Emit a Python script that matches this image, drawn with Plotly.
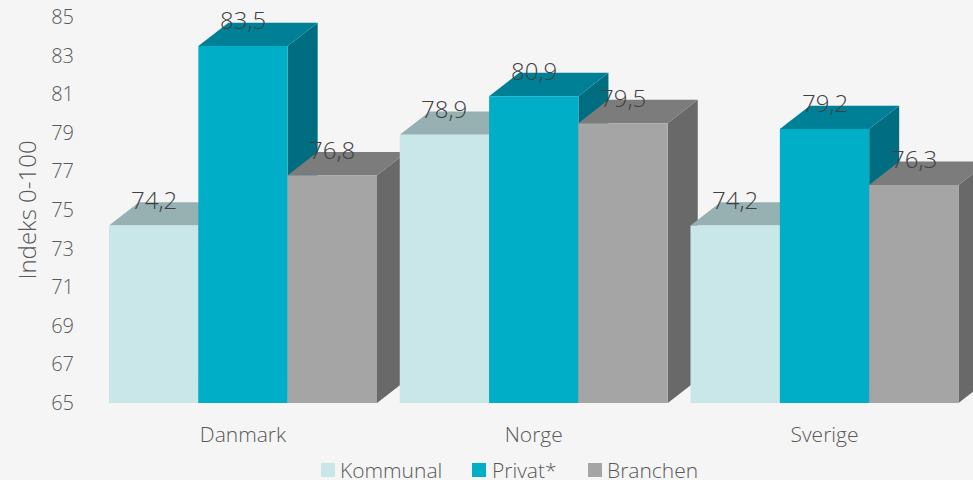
import plotly.graph_objects as go

categories = ["Danmark", "Norge", "Sverige"]
kommunal = [74.2, 78.9, 74.2]
privat = [83.5, 80.9, 79.2]
branchen = [76.8, 79.5, 76.3]
y_ticks = [65, 67, 69, 71, 73, 75, 77, 79, 81, 83, 85]

series = [
    ("Kommunal", kommunal, "#c9e7e9", "#97b0b2", "#7f9a9c"),
    ("Privat*", privat, "#00aec7", "#008097", "#006e80"),
    ("Branchen", branchen, "#a5a5a5", "#7c7c7c", "#696969"),
]

W, H = 973, 480
L, R, T, B = 75, 0, 17, 77
SPACING = 290.75          # pixels between categories
BAR = 89.33 / SPACING     # bar width in axis units
DX = 30 / SPACING         # depth in axis units
BASE = 65
DY = 23.3 / 19.3          # depth in axis units
FONT = "Open Sans"

fig = go.Figure()


def face(xs, ys, color, name):
    fig.add_trace(go.Scatter(
        x=xs + xs[:1], y=ys + ys[:1], mode="lines", fill="toself",
        fillcolor=color, line=dict(width=0), hoverinfo="skip",
        name=name, showlegend=False,
    ))


annotations = []
for c, cat in enumerate(categories):
    for s, (name, values, front, top, side) in enumerate(series):
        v = values[c]
        x0 = c + (s - 1.5) * BAR
        x1 = x0 + BAR
        face([x1, x1 + DX, x1 + DX, x1], [BASE, BASE + DY, v + DY, v], side, name)
        face([x0, x1, x1 + DX, x0 + DX], [v, v, v + DY, v + DY], top, name)
        face([x0, x1, x1, x0], [BASE, BASE, v, v], front, name)
        annotations.append(dict(
            x=(x0 + x1) / 2, y=v, xref="x", yref="y", yshift=26,
            text=f"{v:.1f}".replace(".", ","), showarrow=False,
            font=dict(family=FONT, size=24, color="#404040", weight=300),
        ))

legend_items = [(321, 338, 0), (472, 490, 1), (588, 605, 2)]
shapes = []
for box_x, text_x, s in legend_items:
    shapes.append(dict(
        type="rect", xref="paper", yref="paper",
        x0=(box_x - L) / (W - L - R), x1=(box_x + 14 - L) / (W - L - R),
        y0=(H - B - 477) / (H - T - B), y1=(H - B - 463) / (H - T - B),
        fillcolor=series[s][2], line=dict(width=0),
    ))
    annotations.append(dict(
        x=(text_x - L) / (W - L - R), y=(H - B - 470) / (H - T - B),
        xref="paper", yref="paper", xanchor="left", yanchor="middle",
        text=series[s][0], showarrow=False,
        font=dict(family=FONT, size=21, color="#595959", weight=300),
    ))

fig.update_layout(
    width=W, height=H, margin=dict(l=L, r=R, t=T, b=B, pad=0),
    paper_bgcolor="#f5f5f5", plot_bgcolor="#f5f5f5",
    showlegend=False, annotations=annotations, shapes=shapes,
    font=dict(family=FONT, color="#595959", weight=300),
    xaxis=dict(
        range=[(L - 243) / SPACING, (W - 243) / SPACING],
        tickmode="array", tickvals=[0, 1, 2], ticktext=categories,
        showgrid=False, zeroline=False, showline=False,
        ticks="outside", ticklen=13, tickcolor="rgba(0,0,0,0)",
        tickfont=dict(size=21),
    ),
    yaxis=dict(
        range=[65, 85], tickmode="array", tickvals=y_ticks,
        showgrid=False, zeroline=False, showline=False,
        tickfont=dict(size=20),
        title=dict(text="Indeks 0-100", font=dict(size=24), standoff=7),
    ),
)
fig.write_html(
    "out.html",
    config={"displayModeBar": False},
    post_script="document.body.style.margin='0';document.body.style.background='#f5f5f5';",
)
